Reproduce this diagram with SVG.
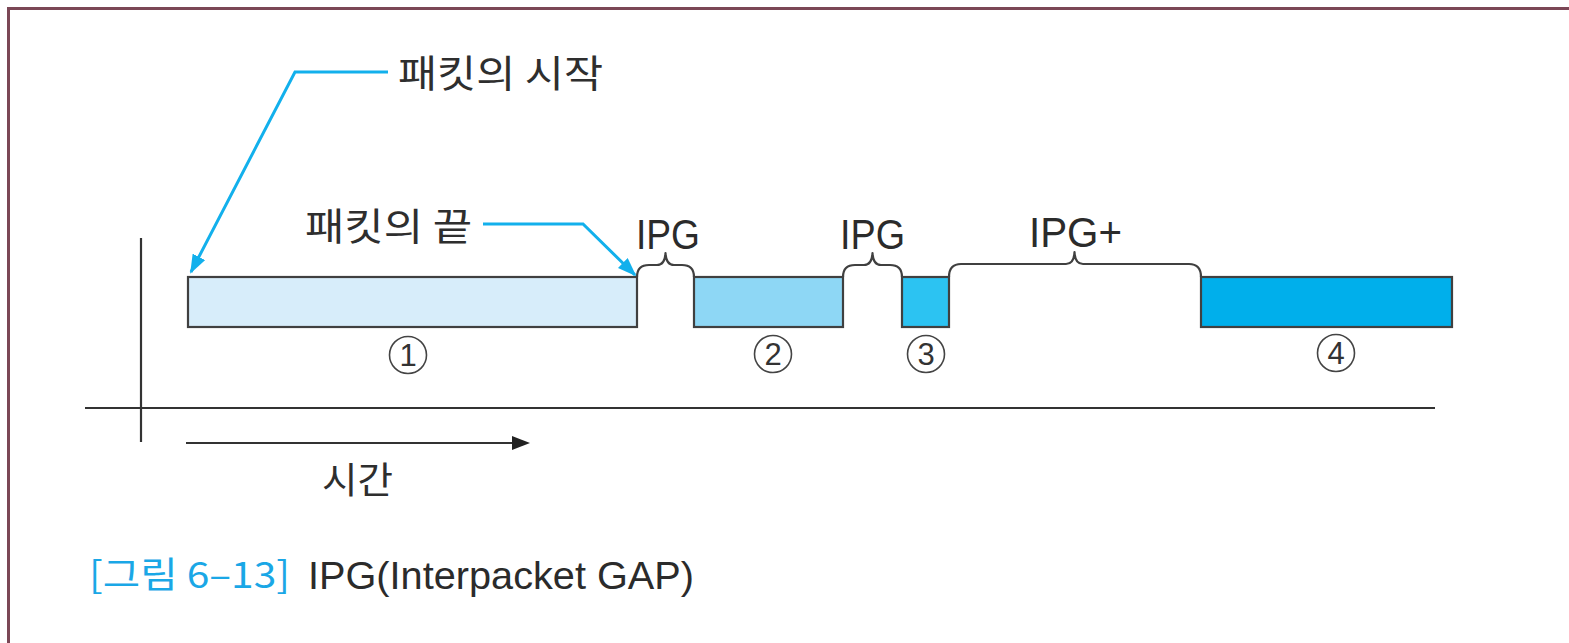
<svg xmlns="http://www.w3.org/2000/svg" width="1569" height="643" viewBox="0 0 1569 643">
  <style>
    .ko { font-family: "Noto Sans CJK KR", "Noto Sans", sans-serif; font-weight: 400; fill: #2e2e2e; }
    .lat { font-family: "Liberation Sans", Arial, sans-serif; fill: #2b2b2b; }
    .pkt { stroke: #404040; stroke-width: 2.2; }
    .brace { fill: none; stroke: #404040; stroke-width: 2.2; stroke-linejoin: round; }
    .callout { fill: none; stroke: #12b0ec; stroke-width: 3; }
    .axis { fill: none; stroke: #333333; stroke-width: 2.2; }
    .num circle { fill: none; stroke: #444444; stroke-width: 1.6; }
    .num text { font-family: "Liberation Sans", Arial, sans-serif; font-size: 31px; fill: #333333; text-anchor: middle; }
  </style>
  <defs>
    <marker id="blueHead" viewBox="0 0 10 10" refX="9" refY="5" markerWidth="19" markerHeight="14" markerUnits="userSpaceOnUse" orient="auto" preserveAspectRatio="none">
      <path d="M0,0 L10,5 L0,10 Z" fill="#12b0ec"/>
    </marker>
  </defs>

  <rect width="1569" height="643" fill="#ffffff"/>
  <!-- frame: top and left rules -->
  <path d="M8.5,643 L8.5,8.5 L1569,8.5" fill="none" stroke="#7b4756" stroke-width="3"/>

  <!-- axes -->
  <g id="axes">
    <line class="axis" x1="141" y1="238" x2="141" y2="442"/>
    <line class="axis" x1="85" y1="408" x2="1435" y2="408"/>
    <line class="axis" x1="186" y1="443" x2="520" y2="443" stroke-width="2.6"/>
    <path d="M512,436 L530,443 L512,450 Z" fill="#222222"/>
    <text class="ko" x="322" y="494" font-size="37" textLength="71" lengthAdjust="spacingAndGlyphs">시간</text>
  </g>

  <!-- packets -->
  <g id="packet1">
    <rect class="pkt" x="188" y="277" width="449" height="50" fill="#d7edfa"/>
    <g class="num"><circle cx="408" cy="355" r="18.5"/><text x="408" y="366">1</text></g>
  </g>
  <g id="packet2">
    <rect class="pkt" x="694" y="277" width="149" height="50" fill="#8ed7f5"/>
    <g class="num"><circle cx="773" cy="354" r="18.5"/><text x="773" y="365">2</text></g>
  </g>
  <g id="packet3">
    <rect class="pkt" x="902" y="277" width="47" height="50" fill="#2cc3f2"/>
    <g class="num"><circle cx="926" cy="354" r="18.5"/><text x="926" y="365">3</text></g>
  </g>
  <g id="packet4">
    <rect class="pkt" x="1201" y="277" width="251" height="50" fill="#00afeb"/>
    <g class="num"><circle cx="1336" cy="353" r="18.5"/><text x="1336" y="364">4</text></g>
  </g>

  <!-- gaps between packets -->
  <g id="gap1">
    <path class="brace" d="M637,277 Q637,265 649,265 L657,265 Q665,265 665.5,253 Q666,265 674,265 L682,265 Q694,265 694,277"/>
    <text class="lat" x="636" y="249" font-size="42" textLength="64" lengthAdjust="spacingAndGlyphs">IPG</text>
  </g>
  <g id="gap2">
    <path class="brace" d="M843,277 Q843,265 855,265 L864,265 Q872,265 872.5,253 Q873,265 881,265 L890,265 Q902,265 902,277"/>
    <text class="lat" x="840" y="249" font-size="42" textLength="65" lengthAdjust="spacingAndGlyphs">IPG</text>
  </g>
  <g id="gap3">
    <path class="brace" d="M949,277 Q949,264 961,264 L1066,264 Q1074,264 1074.5,252 Q1075,264 1083,264 L1189,264 Q1201,264 1201,277"/>
    <text class="lat" x="1029" y="247" font-size="42" textLength="93" lengthAdjust="spacingAndGlyphs">IPG+</text>
  </g>

  <!-- callouts -->
  <g id="callouts">
    <path class="callout" d="M388,72 L295,72 L191,272" marker-end="url(#blueHead)"/>
    <path class="callout" d="M483,224 L583,224 L635,275" marker-end="url(#blueHead)"/>
  </g>
  <g id="label-start">
    <text class="ko" x="398" y="87" font-size="38" textLength="205" lengthAdjust="spacingAndGlyphs">패킷의 시작</text>
  </g>
  <g id="label-end">
    <text class="ko" x="305" y="240" font-size="38" textLength="167" lengthAdjust="spacingAndGlyphs">패킷의 끝</text>
  </g>

  <!-- caption -->
  <g id="caption">
    <text class="ko" x="89" y="588" font-size="36" style="fill:#1aa7e6" textLength="201" lengthAdjust="spacingAndGlyphs">[그림 6–13]</text>
    <text class="lat" x="308" y="589" font-size="39" textLength="386" lengthAdjust="spacingAndGlyphs">IPG(Interpacket  GAP)</text>
  </g>
</svg>
